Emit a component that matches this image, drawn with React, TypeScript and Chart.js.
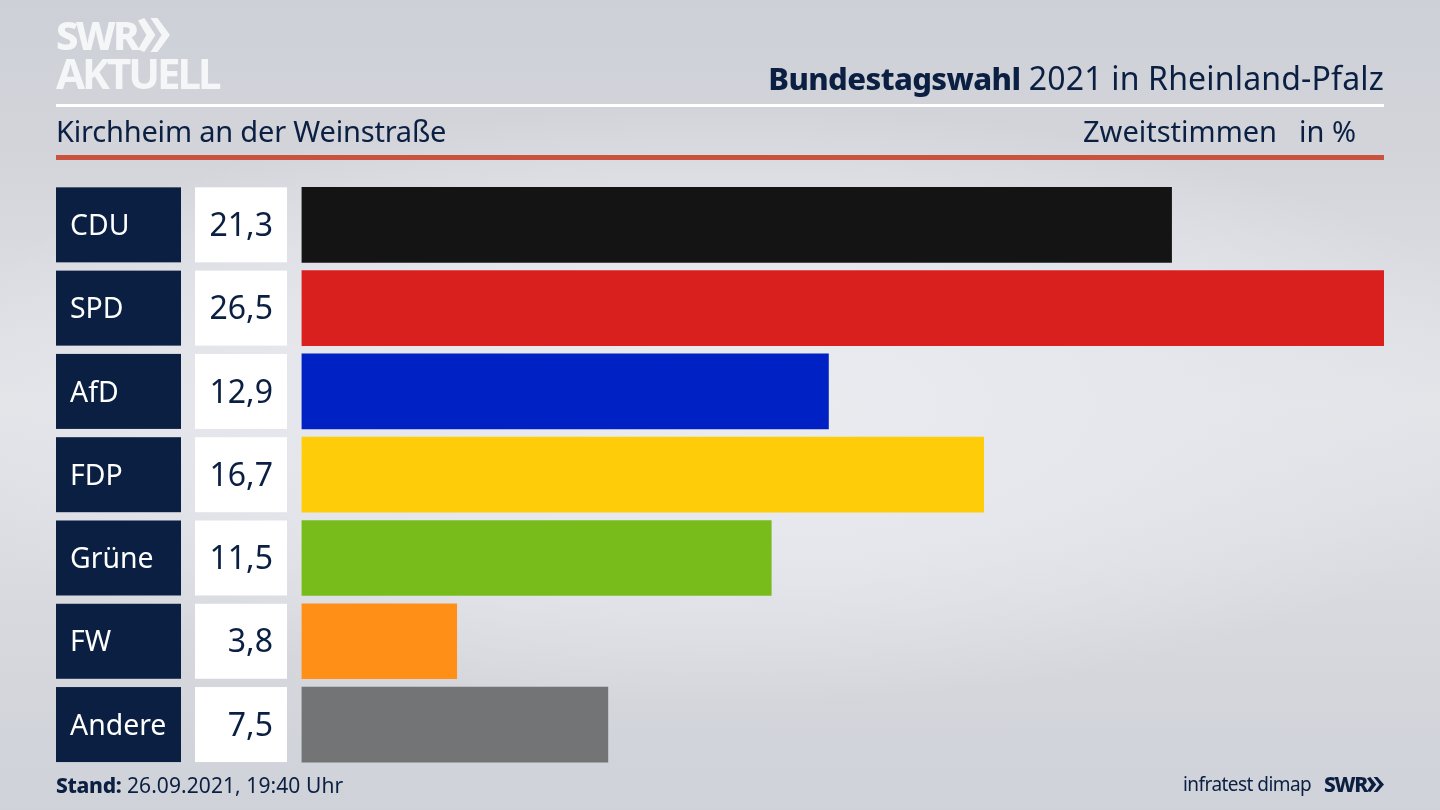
import React, { useEffect, useRef } from "react";
import Chart from "chart.js/auto";

const parties = ["CDU", "SPD", "AfD", "FDP", "Grüne", "FW", "Andere"];
const shares = [21.3, 26.5, 12.9, 16.7, 11.5, 3.8, 7.5];
const barColors = ["#141414", "#d9201f", "#0021c4", "#ffcc0a", "#78bc1b", "#ff8f17", "#737476"];

const NAVY = "#0a1f42";
const FONT = '"Noto Sans", sans-serif';

// party name box and value box to the left of each bar, placed from the y scale
const rowLabels = {
	id: "rowLabels",
	afterDatasetsDraw(chart: Chart) {
		const { ctx, scales } = chart;
		ctx.save();
		parties.forEach((party, i) => {
			const y = scales.y.getPixelForValue(i);
			ctx.fillStyle = NAVY;
			ctx.fillRect(56, y - 37.5, 125, 75);
			ctx.fillStyle = "#ffffff";
			ctx.fillRect(195, y - 37.5, 92, 75);

			ctx.textBaseline = "middle";
			ctx.font = `28.4px ${FONT}`;
			ctx.textAlign = "left";
			ctx.fillText(party, 70, y + 2);
			ctx.fillStyle = NAVY;
			ctx.font = `32px ${FONT}`;
			ctx.textAlign = "right";
			ctx.fillText(shares[i].toFixed(1).replace(".", ","), 273, y + 2);
		});
		ctx.restore();
	},
};

const Chevrons: React.FC<{ w: number; h: number; color: string; style: React.CSSProperties }> = ({ w, h, color, style }) => (
	<svg width={w} height={h} viewBox="0 0 46 40" preserveAspectRatio="none" style={{ position: "absolute", ...style }}>
		<polygon points="0,3 9,0 25,20 9,40 0,37 12,20" fill={color} />
		<polygon points="18,0 28,0 46,20 28,40 18,40 34,20" fill={color} />
	</svg>
);

const text = (extra: React.CSSProperties): React.CSSProperties => ({
	position: "absolute",
	color: NAVY,
	whiteSpace: "nowrap",
	lineHeight: 1,
	fontFamily: FONT,
	...extra,
});

const App: React.FC = () => {
	const canvasRef = useRef<HTMLCanvasElement>(null);

	useEffect(() => {
		document.body.style.margin = "0";
		if (!canvasRef.current) return;
		const chart = new Chart(canvasRef.current, {
			type: "bar",
			data: {
				labels: parties,
				datasets: [
					{
						data: shares,
						backgroundColor: barColors,
						barThickness: 75,
						borderWidth: 0,
					},
				],
			},
			options: {
				indexAxis: "y",
				animation: false,
				responsive: false,
				layout: { padding: { left: 301.5, right: 56, top: 183.2, bottom: 43.8 } },
				plugins: { legend: { display: false }, tooltip: { enabled: false } },
				scales: {
					x: { display: false, min: 0, max: 26.5, grid: { display: false } },
					y: { display: false, grid: { display: false } },
				},
			},
			plugins: [rowLabels],
		});
		return () => chart.destroy();
	}, []);

	return (
		<div
			style={{
				position: "relative",
				width: 1440,
				height: 810,
				overflow: "hidden",
				background:
					"radial-gradient(ellipse 820px 300px at 50% 50%, #ebecf0 0%, #e6e7ec 50%, rgba(228,229,234,0) 100%), linear-gradient(180deg, #cdd0d6 0%, #d3d5db 20%, #e2e4e8 50%, #d6d8de 78%, #cfd2d8 100%)",
			}}
		>
			<canvas ref={canvasRef} width={1440} height={810} style={{ position: "absolute", left: 0, top: 0 }} />

			<div style={text({ left: 56, top: 15, fontSize: 40, fontWeight: 800, color: "#f5f6f7", letterSpacing: -2.8 })}>SWR</div>
			<Chevrons w={32} h={34} color="#f5f6f7" style={{ left: 138, top: 18 }} />
			<div style={text({ left: 56, top: 52, fontSize: 42, fontWeight: 700, color: "#f5f6f7", letterSpacing: -3 })}>AKTUELL</div>

			<div style={text({ right: 56, top: 62, fontSize: 32, letterSpacing: 0.17 })}>
				<span style={{ fontWeight: 800, fontSize: 31, letterSpacing: -0.6 }}>Bundestagswahl</span> 2021 in Rheinland-Pfalz
			</div>
			<div style={{ position: "absolute", left: 56, top: 104, width: 1328, height: 3, background: "#ffffff" }} />
			<div style={text({ left: 56, top: 116, fontSize: 29, letterSpacing: -0.19 })}>Kirchheim an der Weinstraße</div>
			<div style={text({ left: 1083, top: 116, fontSize: 29 })}>Zweitstimmen</div>
			<div style={text({ left: 1299, top: 116, fontSize: 29 })}>in %</div>
			<div style={{ position: "absolute", left: 56, top: 155, width: 1328, height: 5, background: "#c9533f" }} />

			<div style={text({ left: 56, top: 775, fontSize: 21, letterSpacing: 0.08 })}>
				<span style={{ fontWeight: 800, letterSpacing: -0.3 }}>Stand:</span> 26.09.2021, 19:40 Uhr
			</div>
			<div style={text({ left: 1183, top: 775, fontSize: 19, letterSpacing: -0.55 })}>infratest dimap</div>
			<div style={text({ left: 1324, top: 774, fontSize: 21, fontWeight: 800, letterSpacing: -1.3 })}>SWR</div>
			<Chevrons w={17} h={15} color={NAVY} style={{ left: 1367, top: 777 }} />
		</div>
	);
};

export default App;
